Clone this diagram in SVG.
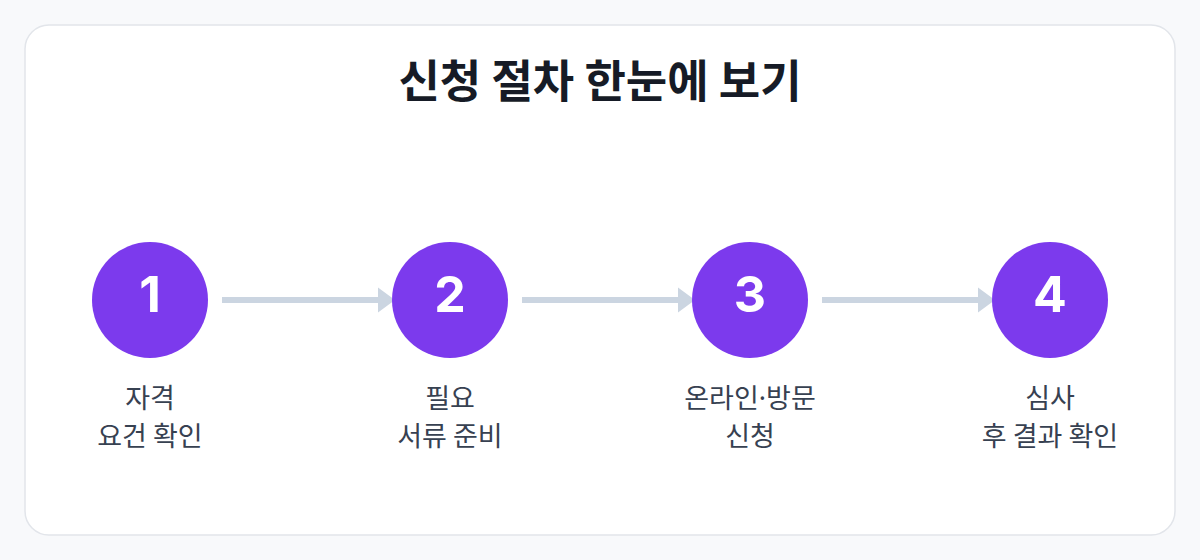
<svg xmlns="http://www.w3.org/2000/svg" width="1200" height="560" viewBox="0 0 1200 560">
<defs>
<style>
.ttl{font-family:"Noto Sans CJK KR","Noto Sans",sans-serif;font-size:45px;font-weight:700;fill:#161b26;text-anchor:middle}
.num{font-family:Inter,"Liberation Sans",sans-serif;font-size:50px;font-weight:700;fill:#ffffff;text-anchor:middle}
.lbl{font-family:"Noto Sans CJK KR","Noto Sans",sans-serif;font-size:27px;fill:#374151;text-anchor:middle}
.md{font-family:"Noto Sans","Liberation Sans",sans-serif}
.dot{fill:#7c3aed}
.con{stroke:#cbd5e1;stroke-width:6;fill:none}
.head{fill:#cbd5e1}
</style>
</defs>
<rect x="0" y="0" width="1200" height="560" fill="#f8f9fb"/>
<rect x="25" y="25" width="1150" height="510" rx="24" fill="#ffffff" stroke="#e2e5ea" stroke-width="1.5"/>
<text class="ttl" x="600" y="98">신청 절차 한눈에 보기</text>
<g id="connectors">
<line class="con" x1="222" y1="300" x2="382" y2="300"/>
<polygon class="head" points="378,287.5 395,300 378,312.5"/>
<line class="con" x1="522" y1="300" x2="682" y2="300"/>
<polygon class="head" points="678,287.5 695,300 678,312.5"/>
<line class="con" x1="822" y1="300" x2="982" y2="300"/>
<polygon class="head" points="978,287.5 995,300 978,312.5"/>
</g>
<g id="step1">
<circle class="dot" cx="150" cy="300" r="58"/>
<text class="num" x="150" y="312">1</text>
<text class="lbl" x="150" y="408">자격</text>
<text class="lbl" x="150" y="446">요건 확인</text>
</g>
<g id="step2">
<circle class="dot" cx="450" cy="300" r="58"/>
<text class="num" x="450" y="312">2</text>
<text class="lbl" x="450" y="408">필요</text>
<text class="lbl" x="450" y="446">서류 준비</text>
</g>
<g id="step3">
<circle class="dot" cx="750" cy="300" r="58"/>
<text class="num" x="750" y="312">3</text>
<text class="lbl" x="750" y="408">온라인<tspan class="md">·</tspan>방문</text>
<text class="lbl" x="750" y="446">신청</text>
</g>
<g id="step4">
<circle class="dot" cx="1050" cy="300" r="58"/>
<text class="num" x="1050" y="312">4</text>
<text class="lbl" x="1050" y="408">심사</text>
<text class="lbl" x="1050" y="446">후 결과 확인</text>
</g>
</svg>
